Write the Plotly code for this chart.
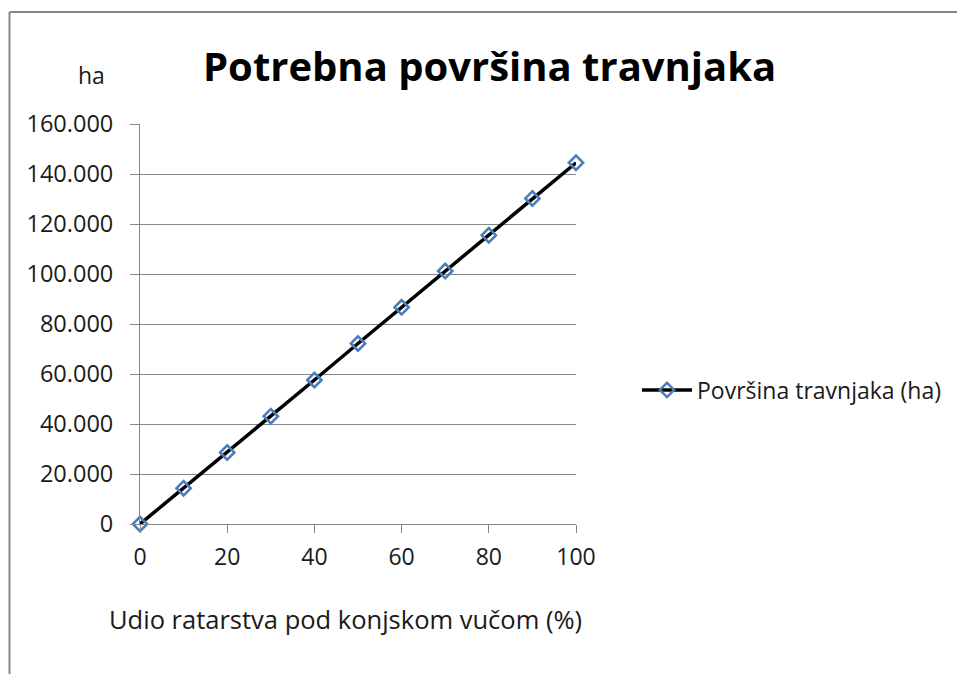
import plotly.graph_objects as go

# Data
udio = [0, 10, 20, 30, 40, 50, 60, 70, 80, 90, 100]
povrsina = [0, 14300, 28600, 43100, 57600, 72200, 86700, 101200, 115500, 130200, 144500]
y_ticks = [0, 20000, 40000, 60000, 80000, 100000, 120000, 140000, 160000]
y_tick_labels = ["0", "20.000", "40.000", "60.000", "80.000", "100.000", "120.000", "140.000", "160.000"]
x_ticks = [0, 20, 40, 60, 80, 100]

W, H = 957, 674
L, R, T, B = 140, 576, 124, 524  # plot area in px


def px(x):
    return (x - L) / (R - L)


def py(y):
    return (B - y) / (B - T)


font = "'Open Sans', sans-serif"
fig = go.Figure()
fig.add_trace(go.Scatter(
    x=udio, y=povrsina, mode="lines+markers", cliponaxis=False,
    name="Površina travnjaka (ha)",
    line=dict(color="black", width=3.5),
    marker=dict(symbol="diamond-open", size=11, color="#4a7ebb", line=dict(width=2.5, color="#4a7ebb")),
))

fig.update_layout(
    width=W, height=H,
    margin=dict(l=L, r=W - R, t=T, b=H - B, autoexpand=False),
    paper_bgcolor="white", plot_bgcolor="white",
    font=dict(family=font, color="#1a1a1a", size=23),
    showlegend=True,
    legend=dict(x=px(637), y=py(390), xanchor="left", yanchor="middle",
                font=dict(size=23, family=font), itemwidth=50, bgcolor="rgba(0,0,0,0)"),
    xaxis=dict(range=[0, 100], tickvals=x_ticks, showgrid=False, zeroline=False,
               showline=True, linecolor="#868686", linewidth=1,
               ticks="outside", ticklen=8, tickcolor="#868686", ticklabelstandoff=4,
               tickfont=dict(size=23)),
    yaxis=dict(range=[0, 160000], tickvals=y_ticks, ticktext=y_tick_labels,
               showgrid=True, gridcolor="#868686", gridwidth=1, zeroline=False,
               showline=True, linecolor="#868686", linewidth=1,
               ticks="outside", ticklen=9, tickcolor="#868686", ticklabelstandoff=12,
               tickfont=dict(size=23.5)),
    annotations=[
        dict(text="<b>Potrebna površina travnjaka</b>", x=px(489), y=py(65), xref="paper", yref="paper",
             xanchor="center", yanchor="middle",
             showarrow=False, font=dict(size=40, family=font, color="black")),
        dict(text="ha", x=px(91), y=py(75), xref="paper", yref="paper",
             xanchor="center", yanchor="middle",
             showarrow=False, font=dict(size=23, family=font)),
        dict(text="Udio ratarstva pod konjskom vučom (%)", x=px(345), y=py(619), xref="paper", yref="paper",
             xanchor="center", yanchor="middle",
             showarrow=False, font=dict(size=25.5, family=font)),
    ],
    shapes=[
        dict(type="line", xref="paper", yref="paper", x0=px(9.5), x1=px(9.5), y0=py(680), y1=py(12),
             line=dict(color="#868686", width=2)),
        dict(type="line", xref="paper", yref="paper", x0=px(9.5), x1=px(960), y0=py(12), y1=py(12),
             line=dict(color="#868686", width=2)),
    ],
)

fig.write_html("out.html", config={"displayModeBar": False},
               post_script="document.body.style.margin='0px';")
